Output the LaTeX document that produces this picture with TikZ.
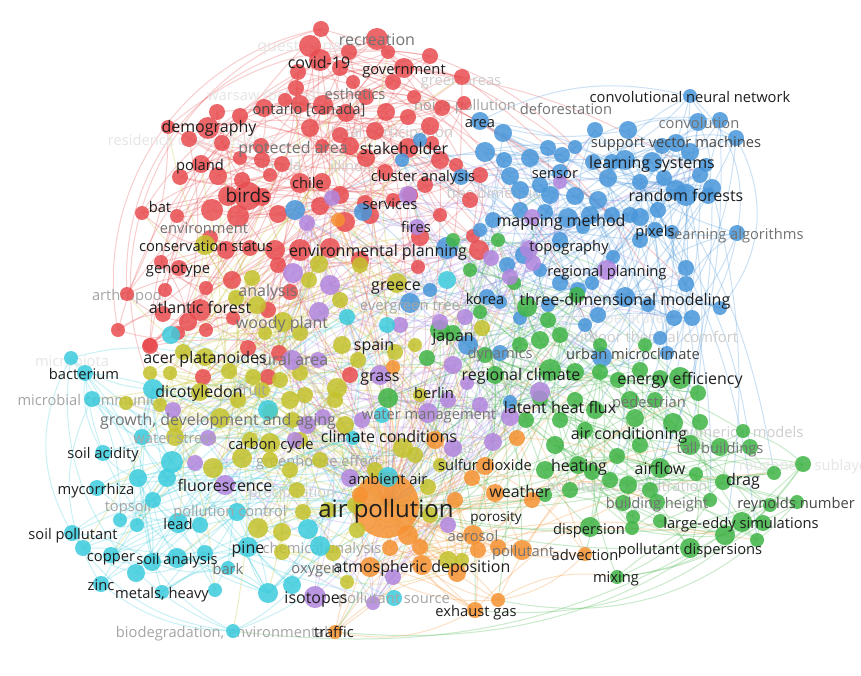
\documentclass[tikz,border=0pt]{standalone}
\usepackage{fontspec}
\setmainfont{Open Sans}
\usetikzlibrary{backgrounds}
\definecolor{vred}{RGB}{232,77,80}
\definecolor{vblue}{RGB}{72,150,218}
\definecolor{vgreen}{RGB}{64,180,70}
\definecolor{vyellow}{RGB}{196,194,45}
\definecolor{vpurple}{RGB}{178,134,222}
\definecolor{vcyan}{RGB}{60,204,222}
\definecolor{vorange}{RGB}{246,146,50}
\definecolor{t0}{RGB}{30,30,30}
\definecolor{t1}{RGB}{70,70,70}
\definecolor{t2}{RGB}{115,115,115}
\definecolor{t3}{RGB}{165,165,165}
\definecolor{t4}{RGB}{205,205,205}
\definecolor{t5}{RGB}{230,230,230}

\begin{document}
\begin{tikzpicture}[x=1pt, y=-1pt,
    bub/.style={circle, inner sep=0pt, draw=none, fill opacity=0.85},
    lab/.style={inner sep=0pt, text height=0.72em, text depth=0.24em, yshift=-4pt},
    edge/.style={line width=1pt, opacity=0.28}]
    \useasboundingbox (0,0) rectangle (861,676);

    % faint labels, under the bubbles
    \foreach \x/\y/\s/\lc/\w [count=\i] in {
        309/45/16/t5/questionnaire, 461/79/14.7/t4/green areas, 264/94/14.7/t5/{warsaw [poland]},
        465/104/14.7/t3/noise pollution, 392/131/14.7/t4/local participation,
        192/139/14.7/t5/residence characteristics, 279/164/14.7/t4/florida, 352/165/14.7/t4/illinois,
        502/192/14.7/t4/tree dimensions, 445/280/14.7/t5/restoration, 597/317/14.7/t5/surface temperatures,
        652/336/14.7/t4/outdoor thermal comfort, 72/360/14.7/t5/microbiota, 456/447/14.7/t4/texas,
        742/431/14.7/t4/numerical models, 806/464/14.7/t5/roughness sublayer,
        627/485/14.7/t4/pollutant concentration, 292/491/14.7/t4/precipitation,
        318/460/14.7/t3/greenhouse effect, 322/547/14.7/t3/chemical analysis,
        222/631/14.7/t3/{biodegradation, environmental}, 128/505/14.7/t3/topsoil,
        90/399/14.7/t3/microbial community, 127/294/14.7/t3/arthropod}
        \node[lab, text=\lc, font=\fontsize{\s}{\s}\selectfont] (f\i) at (\x,\y) {\w};

    % air pollution
    \node[bub, fill=vorange, minimum size=66pt] (ap) at (386,505) {};

    % red cluster
    \foreach \x/\y/\d [count=\i] in {
        321/29/16, 310/46/22, 320/60/22, 349/52/16, 377/39/22, 388/52/14, 430/56/16, 404/68/20, 462/77/16, 298/72/16,
        340/68/16, 296/88/16, 285/100/14, 353/82/14, 393/82/16, 414/97/14, 366/97/16, 346/113/18, 323/105/20, 300/104/18,
        264/108/18, 240/116/16, 442/108/16, 464/103/14, 430/126/18, 408/117/16, 386/112/18, 375/131/18, 340/135/16, 310/128/18,
        322/146/14, 350/146/18, 366/158/18, 408/148/20, 432/143/14, 440/160/18, 456/165/14, 385/172/16, 208/128/22, 217/112/16,
        168/127/14, 189/139/16, 222/143/16, 261/146/16, 282/164/16, 262/160/16, 240/158/14, 201/164/18, 180/177/16, 218/176/18,
        242/180/16, 270/175/14, 248/196/28, 228/196/20, 212/210/22, 238/216/22, 262/197/18, 278/214/18, 300/183/20, 322/182/18,
        340/195/18, 320/206/18, 345/222/20, 370/215/18, 393/200/14, 365/203/16, 142/213/14, 177/216/14, 210/238/16, 226/250/18,
        250/248/16, 161/262/14, 179/268/16, 232/280/18, 206/288/14, 165/290/14, 127/294/14, 200/310/22, 163/314/16, 188/322/18,
        233/318/14, 118/330/14, 150/345/14, 178/333/14, 206/330/14, 275/250/20, 300/250/22, 330/248/20, 360/260/18, 278/265/16,
        290/292/16, 268/310/16, 420/237/18, 440/215/14, 470/200/16, 473/236/14, 410/195/16, 425/185/16, 480/175/16, 418/267/14,
        479/250/20, 350/375/16, 203/377/16, 268/377/16, 150/346/16, 248/348/16, 279/353/16}
        {\node[bub, fill=vred, minimum size=\d pt] (r\i) at (\x,\y) {}; \xdef\nr{\i}}

    % blue cluster
    \foreach \x/\y/\d [count=\i] in {
        690/96/14, 698/122/18, 720/120/16, 736/138/16, 628/130/18, 575/147/14, 662/146/16, 676/143/18, 690/152/18, 706/165/14,
        593/162/16, 612/162/16, 625/160/20, 652/162/20, 608/178/18, 640/182/16, 664/178/16, 676/190/20, 700/175/16, 712/188/18,
        686/195/22, 658/210/16, 640/217/18, 655/230/16, 672/232/14, 737/233/16, 686/268/16, 686/284/16, 625/297/20, 648/305/14,
        720/308/14, 674/318/16, 692/318/16, 598/315/16, 585/325/14, 660/338/14, 613/257/14, 592/283/14, 480/121/18, 503/133/18,
        530/158/18, 548/148/16, 562/155/16, 485/152/20, 504/160/16, 461/177/16, 510/176/18, 520/190/18, 540/185/16, 560/172/16,
        550/195/18, 575/196/18, 598/200/18, 520/210/16, 545/212/16, 568/218/20, 590/215/18, 612/215/16, 630/215/16, 560/240/16,
        524/255/18, 507/265/16, 540/270/14, 560/283/16, 578/290/16, 548/305/14, 520/318/14, 500/302/14, 487/297/16, 493/220/16,
        480/230/14, 447/248/22, 430/290/14, 410/303/20, 295/210/20, 363/212/18, 402/160/14, 500/353/16, 468/345/20, 602/357/20,
        667/353/14, 510/402/14, 420/140/14, 595/130/16, 640/240/16, 708/196/16, 583/227/14}
        {\node[bub, fill=vblue, minimum size=\d pt] (b\i) at (\x,\y) {}; \xdef\nb{\i}}

    % green cluster
    \foreach \x/\y/\d [count=\i] in {
        453/240/14, 498/240/14, 470/270/14, 514/283/14, 480/312/14, 440/330/20, 453/333/16, 527/307/20, 548/320/16, 577/295/16,
        540/340/18, 560/335/16, 520/345/16, 575/372/18, 550/370/22, 495/375/18, 388/398/20, 427/358/16, 485/355/16, 600/372/16,
        618/380/16, 640/370/16, 660/378/16, 680/378/22, 698/393/16, 700/422/16, 575/400/16, 595/410/18, 630/400/18, 655/400/16,
        635/418/18, 673/423/20, 690/445/20, 720/447/18, 750/447/16, 743/431/14, 803/464/16, 774/473/14, 723/482/16, 696/474/14,
        660/468/20, 628/485/18, 650/490/16, 578/465/18, 592/472/16, 610/480/16, 545/470/18, 555/445/18, 585/430/16, 640/445/16,
        617/456/16, 526/420/16, 560/420/16, 540/398/16, 590/527/20, 633/517/14, 632/528/14, 660/521/14, 725/535/20, 742/522/20,
        763/523/16, 770/505/14, 797/502/14, 757/540/14, 690/548/20, 617/577/14, 657/502/16, 623/503/16, 710/500/14, 545/495/14,
        570/490/16, 645/345/14, 600/345/14}
        {\node[bub, fill=vgreen, minimum size=\d pt] (g\i) at (\x,\y) {}; \xdef\ng{\i}}

    % yellow cluster
    \foreach \x/\y/\d [count=\i] in {
        205/245/20, 252/278/16, 236/298/16, 257/305/18, 283/322/20, 265/333/14, 319/264/18, 360/265/16, 340/300/16, 309/280/16,
        397/283/20, 482/328/16, 300/333/16, 205/357/18, 183/352/16, 150/373/14, 170/373/14, 229/371/16, 253/377/16, 280/380/16,
        300/373/16, 337/388/20, 342/345/18, 358/360/16, 395/352/16, 415/345/14, 200/392/18, 220/418/20, 175/425/14, 160/405/14,
        126/403/14, 238/400/16, 262/390/16, 270/412/16, 290/400/18, 250/440/16, 270/460/16, 242/458/20, 213/468/20, 270/443/20,
        175/437/18, 292/420/16, 305/395/16, 335/400/16, 300/440/16, 320/460/16, 345/425/18, 403/448/20, 375/470/16, 415/455/16,
        428/487/16, 290/470/16, 297/490/16, 258/528/20, 282/532/18, 282/552/16, 303/512/16, 357/530/16, 430/515/16, 448/560/18,
        347/582/14, 333/553/16, 328/510/16, 462/560/14, 355/505/16, 420/395/14, 440/465/14}
        {\node[bub, fill=vyellow, minimum size=\d pt] (y\i) at (\x,\y) {}; \xdef\ny{\i}}

    % purple cluster
    \foreach \x/\y/\d [count=\i] in {
        293/273/20, 332/198/16, 408/195/18, 307/223/16, 417/227/16, 330/285/20, 319/312/20, 400/325/16, 440/322/16, 465/317/16,
        529/249/18, 491/258/16, 533/263/16, 510/277/16, 607/270/20, 532/217/16, 380/375/20, 292/360/20, 318/360/16, 428/413/20,
        448/400/16, 453/365/18, 467/383/14, 453/448/18, 493/442/18, 510/417/18, 540/392/20, 362/420/16, 307/425/18, 323/417/16,
        173/410/16, 350/478/18, 295/440/16, 195/463/16, 208/438/16, 225/485/20, 448/525/16, 393/577/16, 373/603/14, 315/597/22,
        560/182/14, 480/405/16}
        {\node[bub, fill=vpurple, minimum size=\d pt] (p\i) at (\x,\y) {}; \xdef\np{\i}}

    % cyan cluster
    \foreach \x/\y/\d [count=\i] in {
        71/358/14, 85/373/16, 92/399/16, 153/389/20, 103/453/16, 142/437/16, 172/462/22, 138/478/18, 167/478/18, 97/488/16,
        153/500/16, 137/525/14, 178/523/20, 72/533/16, 83/548/16, 111/555/16, 136/573/18, 152/562/18, 177/558/20, 205/553/16,
        228/568/14, 248/547/20, 101/584/16, 162/592/14, 268/593/20, 233/631/14, 237/512/18, 308/529/20, 320/546/20, 292/585/18,
        394/598/16, 388/477/20, 382/415/16, 171/335/18, 347/317/16, 387/325/16, 447/280/18, 268/410/20, 353/438/14, 120/520/14,
        200/525/16, 215/590/14}
        {\node[bub, fill=vcyan, minimum size=\d pt] (c\i) at (\x,\y) {}; \xdef\nc{\i}}

    % orange cluster
    \foreach \x/\y/\d [count=\i] in {
        338/220/14, 393/367/14, 435/440/18, 517/438/16, 472/478/16, 485/466/18, 495/493/18, 532/500/16, 408/535/20, 420/547/16,
        390/548/16, 473/535/20, 478/550/16, 498/547/16, 522/550/20, 370/567/20, 422/565/20, 457/573/18, 498/600/14, 475/610/16,
        335/632/14, 585/554/14, 455/500/16, 360/495/16}
        {\node[bub, fill=vorange, minimum size=\d pt] (o\i) at (\x,\y) {}; \xdef\no{\i}}

    % labels
    \foreach \x/\y/\s/\lc/\w [count=\i] in {
        377/39/16/t2/recreation, 355/93/14.7/t2/esthetics, 566/108/14.7/t2/deforestation, 293/147/16/t2/protected area,
        204/227/14.7/t2/environment, 268/290/16/t2/analysis, 282/322/16/t2/woody plant, 410/304/14.7/t3/evergreen tree,
        292/359/16/t2/rural area, 252/389/14.7/t3/fruit, 218/419/16/t2/{growth, development and aging},
        175/437/14.7/t3/water stress, 230/510/14.7/t3/pollution control, 228/568/14.7/t2/bark, 316/567/14.7/t2/oxygen,
        394/597/14.7/t3/pollutant source, 473/535/14.7/t2/aerosol, 523/550/14.7/t2/pollutant, 657/502/14.7/t2/building height,
        720/447/14.7/t2/tall buildings, 649/401/14.7/t2/pedestrian, 500/352/14.7/t2/dynamics, 429/413/14.7/t2/water management,
        699/122/14.7/t2/convolution, 676/141/14.7/t1/support vector machines, 737/233/14.7/t2/learning algorithms,
        319/62/16/t0/covid-19, 404/68/14.7/t0/government, 309/108/14.7/t1/{ontario [canada]}, 209/126/16/t0/demography,
        480/121/14.7/t0/area, 404/148/16/t0/stakeholder, 200/164/14.7/t0/poland, 423/175/14.7/t0/cluster analysis,
        308/182/14.7/t0/chile, 555/172/14.7/t0/sensor, 248/196/19/t0/birds, 390/203/14.7/t0/services, 416/226/14.7/t0/fires,
        160/206/14.7/t0/bat, 378/250/16/t0/environmental planning, 206/245/14.7/t0/conservation status,
        178/267/14.7/t0/genotype, 200/307/16/t0/atlantic forest, 396/284/16/t0/greece, 485/298/14.7/t0/korea,
        625/299/16/t0/three-dimensional modeling, 561/220/16/t0/mapping method, 569/245/14.7/t0/topography,
        607/270/14.7/t0/regional planning, 686/195/16/t0/random forests, 655/230/14.7/t0/pixels,
        652/162/16/t0/learning systems, 690/96/14.7/t0/convolutional neural network, 205/357/16/t0/acer platanoides,
        84/373/14.7/t0/bacterium, 199/391/16/t0/dicotyledon, 271/443/14.7/t0/carbon cycle, 103/452/14.7/t0/soil acidity,
        225/485/16/t0/fluorescence, 96/488/14.7/t0/mycorrhiza, 178/523/14.7/t0/lead, 73/533/14.7/t0/soil pollutant,
        111/555/14.7/t0/copper, 177/558/14.7/t0/soil analysis, 248/547/16/t0/pine, 101/584/14.7/t0/zinc,
        162/592/14.7/t0/{metals, heavy}, 316/597/16/t0/isotopes, 422/566/16/t0/atmospheric deposition,
        334/631/14.7/t0/traffic, 476/610/14.7/t0/exhaust gas, 386/511/24/t0/air pollution, 496/515/13.5/t0/porosity,
        585/554/14.7/t0/advection, 589/528/14.7/t0/dispersion, 616/576/14.7/t0/mixing, 690/548/14.7/t0/pollutant dispersions,
        741/522/14.7/t0/large-eddy simulations, 796/502/14.7/t1/reynolds number, 743/479/16/t0/drag, 660/468/16/t0/airflow,
        579/465/16/t0/heating, 629/433/16/t0/air conditioning, 560/407/16/t0/latent heat flux, 680/378/16/t0/energy efficiency,
        633/353/14.7/t1/urban microclimate, 521/374/16/t0/regional climate, 453/335/16/t0/japan, 374/344/16/t0/spain,
        380/375/16/t0/grass, 434/392/14.7/t0/berlin, 389/436/16/t0/climate conditions, 485/464/14.7/t0/sulfur dioxide,
        388/478/14.7/t0/ambient air, 520/491/16/t0/weather}
        \node[lab, text=\lc, font=\fontsize{\s}{\s}\selectfont] (t\i) at (\x,\y) {\w};

    \begin{pgfonlayer}{background}
        \fill[white] (0,0) rectangle (861,676);
        % links inside each cluster
        \foreach \q/\col/\nn in {r/vred/\nr, b/vblue/\nb, g/vgreen/\ng, y/vyellow/\ny, p/vpurple/\np, c/vcyan/\nc, o/vorange/\no} {
            \foreach \i in {1,...,\nn} {
                \pgfmathtruncatemacro\j{mod(\i*7+3,\nn)+1}
                \pgfmathtruncatemacro\k{mod(\i+2,\nn)+1}
                \ifnum\i=\j\else\draw[edge, \col] (\q\i.center) to[bend left=14] (\q\j.center);\fi
                \ifnum\i=\k\else\draw[edge, \col] (\q\i.center) to[bend right=18] (\q\k.center);\fi
            }
        }
        % links between clusters
        \foreach \qa/\qb/\col/\m/\nt in {y/r/vyellow/30/107, b/g/vblue/25/73, c/y/vcyan/25/67, g/o/vgreen/20/24,
            p/y/vpurple/30/67, p/b/vpurple/15/87, y/c/vyellow/20/42, o/g/vorange/20/73, r/b/vred/12/87, g/p/vgreen/15/42} {
            \foreach \i in {1,...,\m} {
                \pgfmathtruncatemacro\j{mod(\i*13+1,\nt)+1}
                \draw[edge, \col] (\qa\i.center) to[bend left=12] (\qb\j.center);
            }
        }
        % links to air pollution
        \foreach \q/\col/\st/\nn in {o/vorange/1/\no, y/vyellow/3/\ny, p/vpurple/3/\np, c/vcyan/4/\nc, g/vgreen/5/\ng, r/vred/9/\nr, b/vblue/10/\nb} {
            \foreach \i in {1,...,\nn} {
                \pgfmathtruncatemacro\z{mod(\i,\st)}
                \ifnum\z=0 \draw[edge, \col] (\q\i.center) to[bend left=10] (ap.center);\fi
            }
        }
        % long arcs
        \draw[edge, vred] (r1.center) to[bend right=45] (r82.center);
        \draw[edge, vred] (r2.center) to[bend right=40] (r77.center);
        \draw[edge, vred] (r5.center) to[bend right=35] (r83.center);
        \draw[edge, vred] (r9.center) to[bend right=35] (r67.center);
        \draw[edge, vred] (r4.center) to[bend right=30] (r72.center);
        \draw[edge, vred] (r1.center) to[bend right=50] (c4.center);
        \draw[edge, vred] (r7.center) to[bend right=25] (r41.center);
        \draw[edge, vcyan] (c1.center) to[bend right=40] (c26.center);
        \draw[edge, vcyan] (c2.center) to[bend right=35] (c25.center);
        \draw[edge, vcyan] (c1.center) to[bend right=30] (c14.center);
        \draw[edge, vcyan] (c14.center) to[bend right=25] (c26.center);
        \draw[edge, vcyan] (c3.center) to[bend right=30] (c23.center);
        \draw[edge, vcyan] (c26.center) to[bend right=20] (ap.center);
        \draw[edge, vgreen] (g37.center) to[bend left=25] (g66.center);
        \draw[edge, vgreen] (g37.center) to[bend left=30] (o20.center);
        \draw[edge, vgreen] (g63.center) to[bend left=30] (o19.center);
        \draw[edge, vgreen] (g37.center) to[bend left=25] (o21.center);
        \draw[edge, vgreen] (g62.center) to[bend left=20] (c26.center);
        \draw[edge, vorange] (o20.center) to[bend left=20] (o21.center);
        \draw[edge, vorange] (o19.center) to[bend left=20] (g66.center);
        \draw[edge, vblue] (b1.center) to[bend left=30] (b26.center);
        \draw[edge, vblue] (b4.center) to[bend left=35] (b31.center);
        \draw[edge, vblue] (b26.center) to[bend left=20] (b81.center);
        \draw[edge, vblue] (b1.center) to[bend right=20] (b39.center);
        \draw[edge, vblue] (b26.center) to[bend left=15] (b36.center);
    \end{pgfonlayer}
\end{tikzpicture}
\end{document}
